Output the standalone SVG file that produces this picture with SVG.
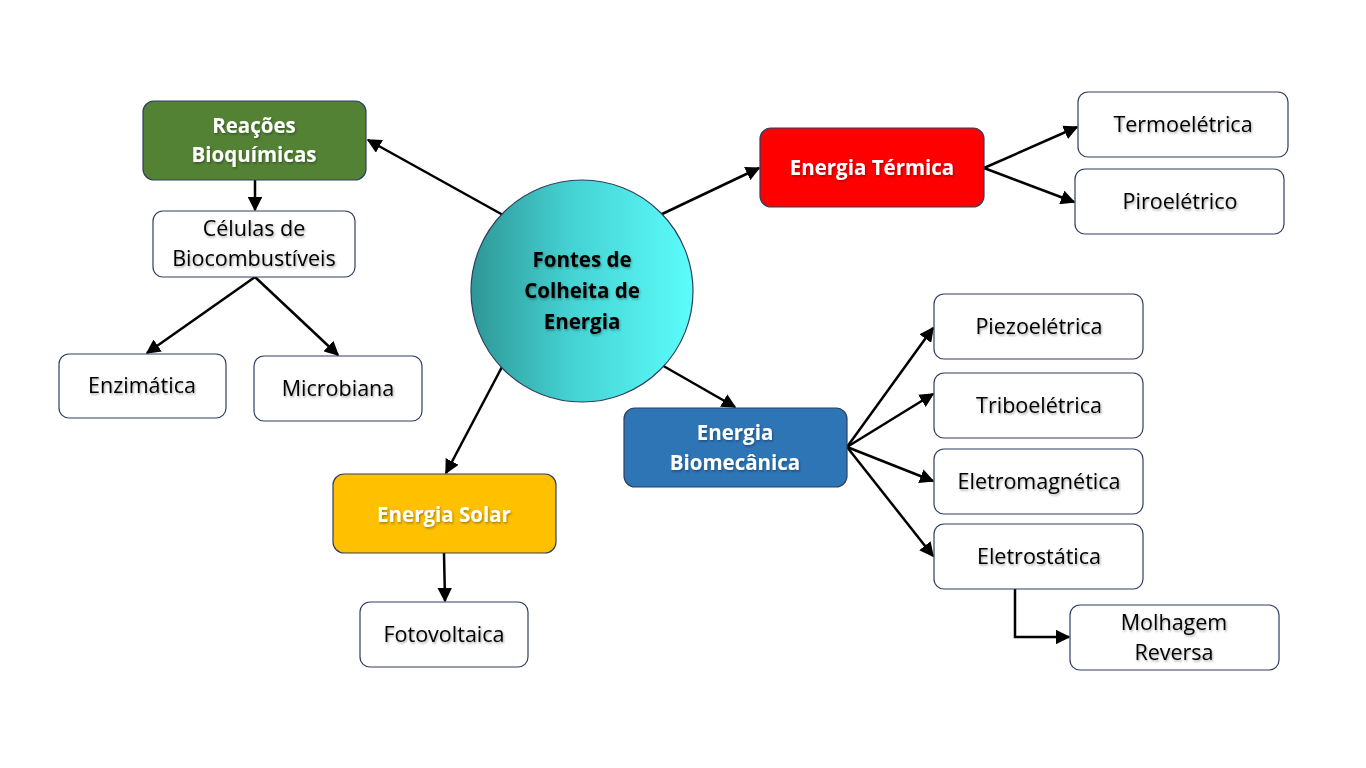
<svg xmlns="http://www.w3.org/2000/svg" width="1366" height="768" viewBox="0 0 1366 768">
<defs>
<linearGradient id="cg" x1="0" y1="0" x2="1" y2="0">
<stop offset="0" stop-color="#2E9696"/>
<stop offset="0.45" stop-color="#45D2D2"/>
<stop offset="1" stop-color="#5CFCFC"/>
</linearGradient>
<marker id="ah" viewBox="0 0 10 10" refX="9" refY="5" markerWidth="5.8" markerHeight="5.8" orient="auto" markerUnits="strokeWidth">
<path d="M0,0 L10,5 L0,10 z" fill="#000"/>
</marker>
<filter id="ts" x="-10%" y="-20%" width="130%" height="150%">
<feDropShadow dx="1" dy="1.5" stdDeviation="1" flood-color="#000" flood-opacity="0.35"/>
</filter>
</defs>
<style>
.box{fill:#fff;stroke:#2F3F60;stroke-width:1.2}
.col{stroke:#2F3F60;stroke-width:1.2}
.t{font-family:"Open Sans","Liberation Sans",sans-serif;font-size:21.5px;fill:#000;text-anchor:middle;filter:url(#ts)}
.w{font-family:"Open Sans","Liberation Sans",sans-serif;font-size:20.5px;font-weight:bold;fill:#fff;text-anchor:middle;filter:url(#ts)}
.b{font-family:"Open Sans","Liberation Sans",sans-serif;font-size:20.5px;font-weight:bold;fill:#000;text-anchor:middle;filter:url(#ts)}
.c{stroke:#000;stroke-width:2.5;fill:none;marker-end:url(#ah)}
</style>
<rect width="1366" height="768" fill="#fff"/>
<g id="connectors">
<line class="c" x1="503" y1="215" x2="368" y2="140"/>
<line class="c" x1="255" y1="180" x2="255" y2="210"/>
<line class="c" x1="255" y1="277" x2="147" y2="353"/>
<line class="c" x1="255" y1="277" x2="338" y2="355"/>
<line class="c" x1="503" y1="365" x2="446" y2="473"/>
<line class="c" x1="444" y1="553" x2="445" y2="601"/>
<line class="c" x1="660" y1="215" x2="759" y2="168"/>
<line class="c" x1="984" y1="168" x2="1077" y2="127"/>
<line class="c" x1="984" y1="168" x2="1074" y2="202"/>
<line class="c" x1="660" y1="364" x2="735" y2="407"/>
<line class="c" x1="847" y1="447" x2="933" y2="328"/>
<line class="c" x1="847" y1="447" x2="933" y2="394"/>
<line class="c" x1="847" y1="447" x2="933" y2="481"/>
<line class="c" x1="847" y1="447" x2="933" y2="556"/>
<path class="c" d="M1015,589 L1015,637 L1069,637" stroke-width="3"/>
</g>
<g id="center">
<circle cx="582" cy="291" r="111" fill="url(#cg)" stroke="#2F3F60" stroke-width="1.2"/>
<text class="b" x="582" y="267">Fontes de</text>
<text class="b" x="582" y="298">Colheita de</text>
<text class="b" x="582" y="329">Energia</text>
</g>
<g id="reacoes">
<rect class="col" x="143" y="101" width="223" height="79" rx="11" fill="#548235"/>
<text class="w" x="254" y="133">Reações</text>
<text class="w" x="254" y="162">Bioquímicas</text>
</g>
<g id="celulas">
<rect class="box" x="153" y="211" width="202" height="66" rx="10"/>
<text class="t" x="254" y="236">Células de</text>
<text class="t" x="254" y="266">Biocombustíveis</text>
</g>
<g id="enzimatica">
<rect class="box" x="59" y="354" width="167" height="64" rx="10"/>
<text class="t" x="142" y="393">Enzimática</text>
</g>
<g id="microbiana">
<rect class="box" x="254" y="356" width="168" height="65" rx="10"/>
<text class="t" x="338" y="396">Microbiana</text>
</g>
<g id="solar">
<rect class="col" x="333" y="474" width="223" height="79" rx="11" fill="#FFC000"/>
<text class="w" x="444" y="522">Energia Solar</text>
</g>
<g id="fotovoltaica">
<rect class="box" x="360" y="602" width="168" height="65" rx="10"/>
<text class="t" x="444" y="642">Fotovoltaica</text>
</g>
<g id="termica">
<rect class="col" x="760" y="128" width="224" height="79" rx="11" fill="#FF0000"/>
<text class="w" x="872" y="175">Energia Térmica</text>
</g>
<g id="termoeletrica">
<rect class="box" x="1078" y="92" width="210" height="65" rx="10"/>
<text class="t" x="1183" y="132">Termoelétrica</text>
</g>
<g id="piroeletrico">
<rect class="box" x="1075" y="169" width="209" height="65" rx="10"/>
<text class="t" x="1180" y="209">Piroelétrico</text>
</g>
<g id="biomecanica">
<rect class="col" x="624" y="408" width="223" height="79" rx="11" fill="#2E75B6"/>
<text class="w" x="735" y="440">Energia</text>
<text class="w" x="735" y="470">Biomecânica</text>
</g>
<g id="piezoeletrica">
<rect class="box" x="934" y="294" width="209" height="65" rx="10"/>
<text class="t" x="1039" y="334">Piezoelétrica</text>
</g>
<g id="triboeletrica">
<rect class="box" x="934" y="373" width="209" height="65" rx="10"/>
<text class="t" x="1039" y="413">Triboelétrica</text>
</g>
<g id="eletromagnetica">
<rect class="box" x="934" y="449" width="209" height="65" rx="10"/>
<text class="t" x="1039" y="489">Eletromagnética</text>
</g>
<g id="eletrostatica">
<rect class="box" x="934" y="524" width="209" height="65" rx="10"/>
<text class="t" x="1039" y="564">Eletrostática</text>
</g>
<g id="molhagem">
<rect class="box" x="1070" y="605" width="209" height="65" rx="10"/>
<text class="t" x="1174" y="630">Molhagem</text>
<text class="t" x="1174" y="660">Reversa</text>
</g>
</svg>
